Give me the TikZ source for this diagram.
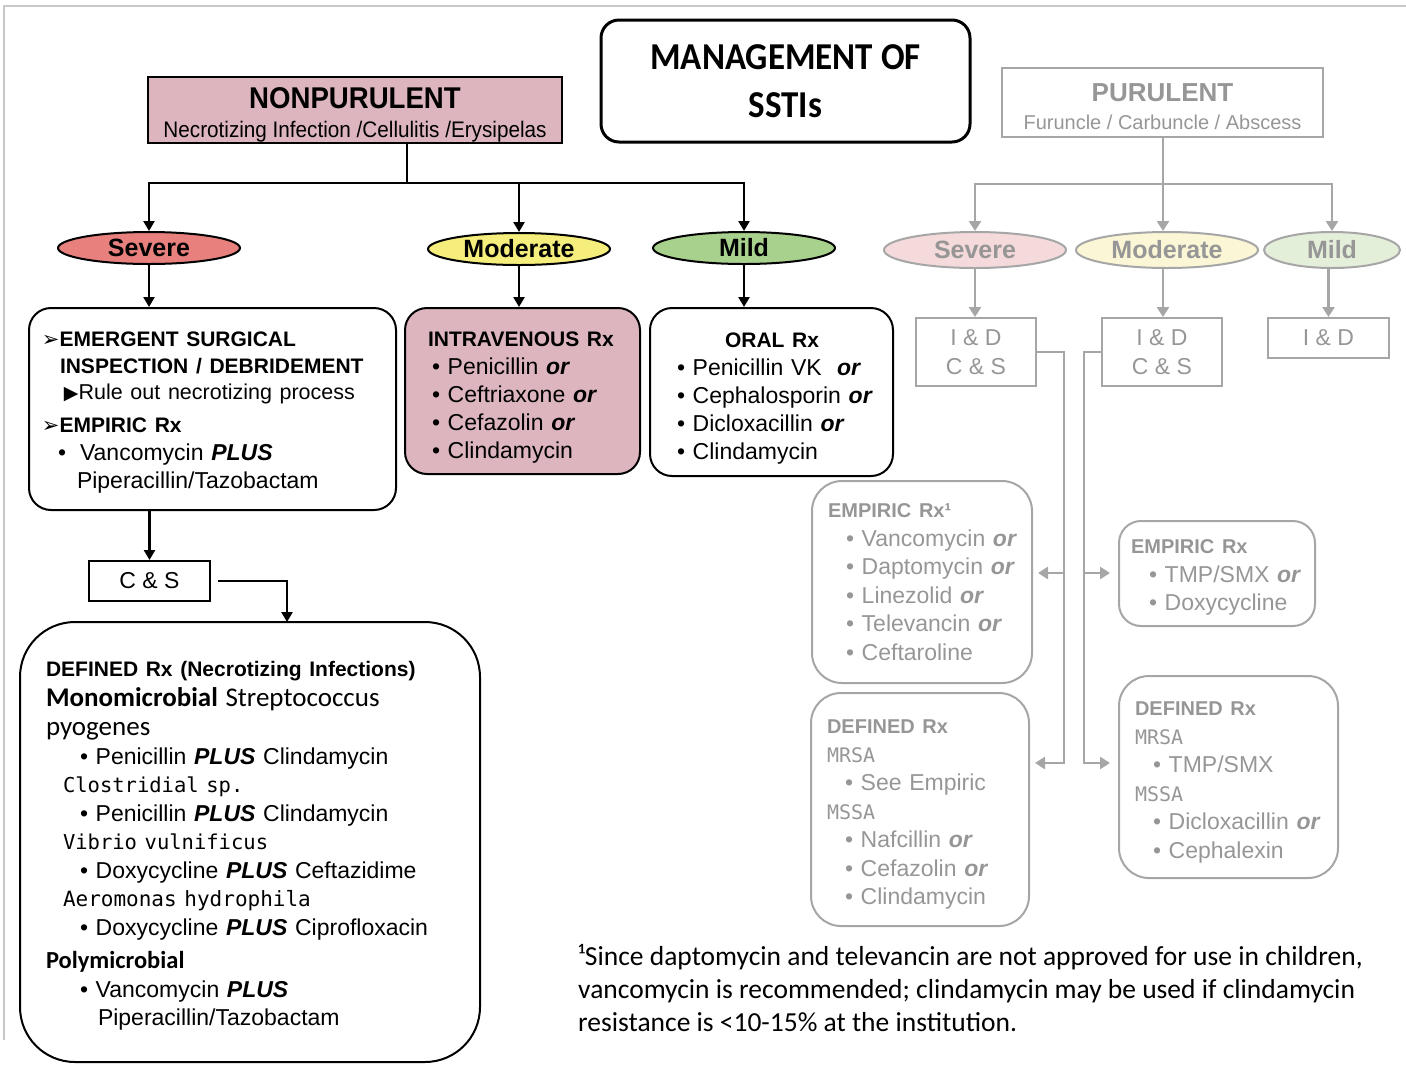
\documentclass[tikz,border=0pt]{standalone}
\usepackage{fontspec}
\usepackage{xcolor}
\usepackage{tikz}
\usetikzlibrary{shapes.geometric,arrows.meta,positioning,calc}
\setmainfont{Liberation Sans}
\newfontfamily\calfont{Carlito}
\newfontfamily\headfont[FakeStretch=0.92]{Carlito}
\newfontfamily\narrowA[FakeStretch=0.92]{Liberation Sans}
\newfontfamily\monofont{DejaVu Sans Mono}
\newfontfamily\symfont{DejaVu Sans}
\newcommand{\fsz}[2]{\fontsize{#1}{#2}\selectfont}
\newcommand{\bor}{\textbf{\textit{or}}}
\newcommand{\bplus}{\textbf{\textit{PLUS}}}
\definecolor{pinkfill}{RGB}{220,181,191}
\definecolor{sevred}{RGB}{232,128,126}
\definecolor{modyel}{RGB}{245,238,125}
\definecolor{mildgrn}{RGB}{169,209,142}
\definecolor{sevpale}{RGB}{244,218,218}
\definecolor{modpale}{RGB}{250,246,214}
\definecolor{mildpale}{RGB}{228,239,218}
\definecolor{lgray}{RGB}{166,166,166}
\definecolor{tgray}{RGB}{150,150,150}
\definecolor{framegray}{RGB}{200,200,200}

\tikzset{
  flow/.style={line width=2.5pt, -{Triangle[length=10pt,width=11pt]}},
  gflow/.style={line width=2.5pt, draw=lgray, -{Triangle[length=10pt,width=12pt]}},
  level/.style={ellipse, draw, line width=2pt, minimum width=182pt, minimum height=32pt,
    inner sep=0pt, font=\bfseries\fsz{25}{28}},
  glevel/.style={level, draw=lgray, text=tgray, minimum height=36pt},
  textin/.style={execute at begin node={\leftskip=#1\relax}},
  rxbox/.style={draw, line width=2pt, rounded corners=22pt, inner ysep=0pt, inner xsep=4pt,
    align=left, font=\fsz{23}{28}},
  grbox/.style={draw=lgray, line width=2pt, rounded corners=30pt, inner ysep=0pt, inner xsep=4pt,
    align=left, text=tgray, font=\fsz{23}{28.5}},
  plainbox/.style={draw, line width=2pt, inner sep=0pt, align=center, font=\fsz{23}{29}}
}

\begin{document}
\begin{tikzpicture}[x=1pt, y=-1pt]
  \useasboundingbox (0,0) rectangle (1406,1072);
  % page frame
  \draw[framegray, line width=1.2pt] (4,1040) -- (4,6) -- (1406,6);

  % headers
  \node[draw, line width=3pt, rounded corners=18pt, minimum width=369pt, minimum height=122pt,
    align=center, font=\headfont\bfseries\fsz{38}{48}] (title) at (785.5,81) {MANAGEMENT OF\\SSTIs};
  \node[draw, line width=1.5pt, fill=pinkfill, minimum width=414pt, minimum height=66pt,
    inner sep=0pt, align=center, font=\fsz{22}{29}] (nonpur) at (355,110)
    {\rule{0pt}{30pt}{\narrowA\bfseries\fsz{30}{29}NONPURULENT}\\{\narrowA\fsz{22.5}{29}Necrotizing Infection /Cellulitis /Erysipelas}};
  \node[draw=lgray, line width=2pt, minimum width=321pt, minimum height=69pt, inner sep=0pt,
    align=center, text=tgray, font=\fsz{20}{28}] (pur) at (1162.5,102.5)
    {\rule{0pt}{27pt}{\bfseries\fsz{26}{28}PURULENT}\\Furuncle / Carbuncle / Abscess};

  % nonpurulent branch
  \node[level, fill=sevred] (sev) at (149,248) {Severe};
  \node[level, fill=modyel] (mod) at (519,249) {Moderate};
  \node[level, fill=mildgrn] (mild) at (744,248) {Mild};

  \node[rxbox, textin=9pt, text width=359pt, minimum height=202pt] (sevbox) at (212.5,409)
    {\rule{0pt}{22pt}{\bfseries\fsz{21}{28}{\symfont ➢}EMERGENT SURGICAL}\\[-1pt]
     \hspace*{18pt}{\bfseries\fsz{21}{28}INSPECTION / DEBRIDEMENT}\\[-2pt]
     \hspace*{22pt}{\fsz{21.5}{28}{\symfont\fsz{19}{28}▶}Rule out necrotizing process}\\[5pt]
     {\bfseries\fsz{21}{28}{\symfont ➢}EMPIRIC Rx}\\
     \hspace*{16pt}\textbullet\hspace{14pt}Vancomycin \bplus\\
     \hspace*{35pt}Piperacillin/Tazobactam};
  \node[rxbox, fill=pinkfill, textin=19pt, text width=227pt, minimum height=166pt] (ivbox) at (522.5,391)
    {\rule{0pt}{27pt}{\bfseries\fsz{21}{28}INTRAVENOUS Rx}\\
     \hspace*{4pt}\textbullet\ Penicillin \bor\\
     \hspace*{4pt}\textbullet\ Ceftriaxone \bor\\
     \hspace*{4pt}\textbullet\ Cefazolin \bor\\
     \hspace*{4pt}\textbullet\ Clindamycin};
  \node[rxbox, textin=23pt, text width=235pt, minimum height=168pt] (oralbox) at (771.5,392)
    {\rule{0pt}{27pt}\hspace*{48pt}{\bfseries\fsz{21}{28}ORAL Rx}\\
     \textbullet\ Penicillin VK\ \ \bor\\
     \textbullet\ Cephalosporin \bor\\
     \textbullet\ Dicloxacillin \bor\\
     \textbullet\ Clindamycin};

  \node[plainbox, minimum width=121pt, minimum height=40pt] (csbox) at (149.5,581) {C \& S};
  \node[rxbox, rounded corners=55pt, textin=22pt, text width=452pt, minimum height=440pt,
    font=\fsz{23}{28.5}] (defbox) at (250,842)
    {\rule{0pt}{23pt}{\bfseries\fsz{21}{28.5}DEFINED Rx (Necrotizing Infections)}\\[1pt]
     {\calfont\fsz{27}{28.5}\textbf{Monomicrobial} Streptococcus}\\[1pt]
     {\calfont\fsz{27}{28.5}pyogenes}\\
     \hspace*{34pt}\textbullet\ Penicillin \bplus\ Clindamycin\\
     \hspace*{17pt}{\monofont\fsz{20.5}{28}Clostridial sp.}\\
     \hspace*{34pt}\textbullet\ Penicillin \bplus\ Clindamycin\\
     \hspace*{17pt}{\monofont\fsz{20.5}{28}Vibrio vulnificus}\\
     \hspace*{34pt}\textbullet\ Doxycycline \bplus\ Ceftazidime\\
     \hspace*{17pt}{\monofont\fsz{21}{28}Aeromonas hydrophila}\\
     \hspace*{34pt}\textbullet\ Doxycycline \bplus\ Ciprofloxacin\\[5pt]
     {\calfont\bfseries\fsz{24.5}{28}Polymicrobial}\\
     \hspace*{34pt}\textbullet\ Vancomycin \bplus\\
     \hspace*{52pt}Piperacillin/Tazobactam};

  \coordinate (split) at (407,183);
  \coordinate (cstop) at (287,622);
  \draw[line width=2.5pt] (nonpur.south -| split) -- (split);
  \draw[flow] (split) -| (sev);
  \draw[flow] (split) -| (mod);
  \draw[flow] (split) -| (mild);
  \draw[flow] (sev.south) -- (sev.south |- sevbox.north);
  \draw[flow] (mod.south) -- (mod.south |- ivbox.north);
  \draw[flow] (mild.south) -- (mild.south |- oralbox.north);
  \draw[flow] (sevbox.south -| csbox) -- (csbox.north);
  \draw[flow, shorten <=7pt] (csbox.east) -| (cstop);

  % purulent branch
  \node[glevel, fill=sevpale] (psev) at (975,250) {Severe};
  \node[glevel, fill=modpale] (pmod) at (1167,250) {Moderate};
  \node[glevel, fill=mildpale, minimum width=136pt] (pmild) at (1332,250) {Mild};

  \node[plainbox, draw=lgray, text=tgray, minimum width=120pt, minimum height=68pt] (pid1) at (976,352) {I \& D\\C \& S};
  \node[plainbox, draw=lgray, text=tgray, minimum width=120pt, minimum height=68pt] (pid2) at (1162,352) {I \& D\\C \& S};
  \node[plainbox, draw=lgray, text=tgray, minimum width=121pt, minimum height=40pt] (pid3) at (1328.5,338) {I \& D};

  \node[grbox, textin=12pt, text width=212pt, minimum height=202pt] (pemp1) at (922,582)
    {{\bfseries\fsz{20}{28}EMPIRIC Rx¹}\\
     \hspace*{18pt}\textbullet\ Vancomycin \bor\\
     \hspace*{18pt}\textbullet\ Daptomycin \bor\\
     \hspace*{18pt}\textbullet\ Linezolid \bor\\
     \hspace*{18pt}\textbullet\ Televancin \bor\\
     \hspace*{18pt}\textbullet\ Ceftaroline};
  \node[grbox, textin=12pt, text width=210pt, minimum height=233pt] (pdef1) at (920,809.5)
    {\rule{0pt}{24.5pt}{\bfseries\fsz{20}{28}DEFINED Rx}\\
     {\monofont\fsz{20}{28}MRSA}\\
     \hspace*{18pt}\textbullet\ See Empiric\\
     {\monofont\fsz{20}{28}MSSA}\\
     \hspace*{18pt}\textbullet\ Nafcillin \bor\\
     \hspace*{18pt}\textbullet\ Cefazolin \bor\\
     \hspace*{18pt}\textbullet\ Clindamycin};
  \node[grbox, rounded corners=22pt, textin=8pt, text width=188pt, minimum height=105pt] (pemp2) at (1217,573.5)
    {\rule{0pt}{22.5pt}{\bfseries\fsz{20}{28}EMPIRIC Rx}\\
     \hspace*{18pt}\textbullet\ TMP/SMX \bor\\
     \hspace*{18pt}\textbullet\ Doxycycline};
  \node[grbox, textin=12pt, text width=211pt, minimum height=202pt] (pdef2) at (1228.5,777)
    {\rule{0pt}{24.5pt}{\bfseries\fsz{20}{28}DEFINED Rx}\\
     {\monofont\fsz{20}{28}MRSA}\\
     \hspace*{18pt}\textbullet\ TMP/SMX\\
     {\monofont\fsz{20}{28}MSSA}\\
     \hspace*{18pt}\textbullet\ Dicloxacillin \bor\\
     \hspace*{18pt}\textbullet\ Cephalexin};

  \coordinate (psplit) at (1163,184);
  \coordinate (lva) at (1064,573);
  \coordinate (lvb) at (1064,763);
  \coordinate (rva) at (1084,573);
  \coordinate (rvb) at (1084,763);
  \draw[lgray, line width=2.5pt] (pur.south -| psplit) -- (psplit);
  \draw[gflow] (psplit) -| (psev);
  \draw[gflow] (psplit) -- (psplit |- pmod.north);
  \draw[gflow] (psplit) -| (pmild);
  \draw[gflow] (psev.south) -- (psev.south |- pid1.north);
  \draw[gflow] (psplit |- pmod.south) -- (psplit |- pid2.north);
  \draw[gflow] (pmild.south -| pid3) -- (pid3.north);
  \draw[gflow, shorten >=5pt] (pid1.east) -| (lvb) -- (lvb -| pdef1.east);
  \draw[gflow, shorten >=5pt] (lva) -- (lva -| pemp1.east);
  \draw[gflow, shorten >=8pt] (pid2.west) -| (rvb) -- (rvb -| pdef2.west);
  \draw[gflow, shorten >=8pt] (rva) -- (rva -| pemp2.west);

  % footnote
  \node[anchor=north west, inner sep=0pt, align=left, font=\calfont\fsz{27.5}{33}] (note) at (578,944)
    {¹Since daptomycin and televancin are not approved for use in children,\\
     vancomycin is recommended; clindamycin may be used if clindamycin\\
     resistance is <10-15\% at the institution.};
\end{tikzpicture}
\end{document}
